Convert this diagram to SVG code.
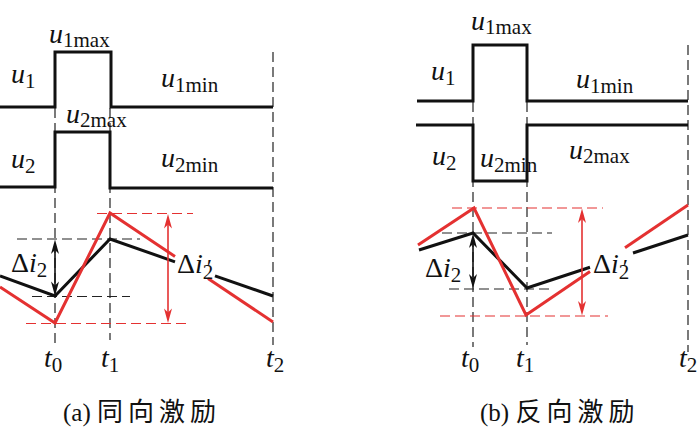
<svg xmlns="http://www.w3.org/2000/svg" width="700" height="432" viewBox="0 0 700 432">
<style>
.w{fill:none;stroke:#111;stroke-width:3}
.cb{fill:none;stroke:#111;stroke-width:3}
.cr{fill:none;stroke:#e43131;stroke-width:3}
.db{fill:none;stroke:#222;stroke-width:1.2;stroke-dasharray:10 5}
.dr{fill:none;stroke:#e43131;stroke-width:1.2;stroke-dasharray:10 5}
.ab{fill:none;stroke:#111;stroke-width:1.6}
.ar{fill:none;stroke:#e43131;stroke-width:1.6}
.hb{fill:#111;stroke:none}
.hr{fill:#e43131;stroke:none}
.t{font-family:'Liberation Serif','Times New Roman',serif;font-size:28px;fill:#111}
.i{font-style:italic}
.s{font-size:21px}
.p{font-size:24px;font-style:italic}
.cap{font-size:25px}
.cjk{font-family:'Noto Sans CJK SC',sans-serif;font-size:26px;letter-spacing:5px}
</style>

<g id="panel-a">
  <g id="a-guides">
    <line class="db" x1="55" y1="108" x2="55" y2="345"/>
    <line class="db" x1="110" y1="108" x2="110" y2="340"/>
    <line class="db" x1="273" y1="52" x2="273" y2="345"/>
    <line class="db" x1="17" y1="239" x2="140" y2="239"/>
    <line class="db" x1="32" y1="296.5" x2="130" y2="296.5"/>
    <line class="dr" x1="97" y1="213.5" x2="193" y2="213.5"/>
    <line class="dr" x1="26" y1="323.5" x2="188" y2="323.5"/>
  </g>
  <g id="a-u1"><polyline class="w" points="0,107 55,107 55,52 111,52 111,107 273,107"/></g>
  <g id="a-u2"><polyline class="w" points="0,187 55,187 55,132 110,132 110,188 273,188"/></g>
  <g id="a-i2"><polyline class="cb" points="0,276 55,296 110,239 175,261.8"/><line class="cb" x1="215" y1="275.8" x2="273" y2="296"/></g>
  <g id="a-i2p"><polyline class="cr" points="0,287 55,323 110,213 175,256.5"/><line class="cr" x1="208" y1="278.5" x2="273" y2="322"/></g>
  <g id="a-labels">
    <text class="t" x="11" y="83"><tspan class="i">u</tspan><tspan class="s" dy="5">1</tspan></text>
    <text class="t" x="49" y="43"><tspan class="i">u</tspan><tspan class="s" dy="4">1max</tspan></text>
    <text class="t" x="161" y="87"><tspan class="i">u</tspan><tspan class="s" dy="5">1min</tspan></text>
    <text class="t" x="66" y="123"><tspan class="i">u</tspan><tspan class="s" dy="4">2max</tspan></text>
    <text class="t" x="11" y="168"><tspan class="i">u</tspan><tspan class="s" dy="5">2</tspan></text>
    <text class="t" x="161" y="167"><tspan class="i">u</tspan><tspan class="s" dy="5">2min</tspan></text>
    <text class="t" x="11" y="272">Δ<tspan class="i">i</tspan><tspan class="s" dy="5">2</tspan></text>
    <text class="t" x="177" y="273">Δ<tspan class="i">i</tspan><tspan class="s" dy="6">2</tspan><tspan class="p" dx="-8" dy="-4">′</tspan></text>
    <text class="t" x="44" y="367"><tspan class="i">t</tspan><tspan class="s" dy="5">0</tspan></text>
    <text class="t" x="101" y="367"><tspan class="i">t</tspan><tspan class="s" dy="5">1</tspan></text>
    <text class="t" x="266" y="367"><tspan class="i">t</tspan><tspan class="s" dy="5">2</tspan></text>
    <text class="t cap" x="63" y="421">(a) <tspan class="cjk">同向激励</tspan></text>
  </g>
</g>

<g id="panel-b">
  <g id="b-guides">
    <line class="db" x1="473" y1="102" x2="473" y2="347"/>
    <line class="db" x1="527" y1="102" x2="527" y2="345"/>
    <line class="db" x1="688" y1="45" x2="688" y2="352"/>
    <line class="db" x1="442" y1="233" x2="552" y2="233"/>
    <line class="db" x1="449" y1="289" x2="550" y2="289"/>
    <line class="dr" x1="452" y1="208" x2="603" y2="208"/>
    <line class="dr" x1="440" y1="316" x2="608" y2="316"/>
  </g>
  <g id="b-u1"><polyline class="w" points="417,101 473,101 473,45 527,45 527,101 688,101"/></g>
  <g id="b-u2"><polyline class="w" points="416,125 473,125 473,181 527,181 527,125 688,125"/></g>
  <g id="b-i2"><polyline class="cb" points="419,250 473,233 527,288 590,267.3"/><line class="cb" x1="633" y1="253" x2="688" y2="235"/></g>
  <g id="b-i2p"><polyline class="cr" points="418,245 474,208 526,315 590,271.5"/><line class="cr" x1="625" y1="247.8" x2="688" y2="205"/></g>
  <g id="b-labels">
    <text class="t" x="431" y="80"><tspan class="i">u</tspan><tspan class="s" dy="5">1</tspan></text>
    <text class="t" x="471" y="30"><tspan class="i">u</tspan><tspan class="s" dy="4">1max</tspan></text>
    <text class="t" x="576" y="88"><tspan class="i">u</tspan><tspan class="s" dy="5">1min</tspan></text>
    <text class="t" x="432" y="165"><tspan class="i">u</tspan><tspan class="s" dy="5">2</tspan></text>
    <text class="t" x="480" y="167"><tspan class="i">u</tspan><tspan class="s" dy="5">2min</tspan></text>
    <text class="t" x="569" y="159"><tspan class="i">u</tspan><tspan class="s" dy="4">2max</tspan></text>
    <text class="t" x="425" y="277">Δ<tspan class="i">i</tspan><tspan class="s" dy="5">2</tspan></text>
    <text class="t" x="593" y="273">Δ<tspan class="i">i</tspan><tspan class="s" dy="6">2</tspan><tspan class="p" dx="-8" dy="-4">′</tspan></text>
    <text class="t" x="461" y="367"><tspan class="i">t</tspan><tspan class="s" dy="5">0</tspan></text>
    <text class="t" x="516" y="367"><tspan class="i">t</tspan><tspan class="s" dy="5">1</tspan></text>
    <text class="t" x="679" y="367"><tspan class="i">t</tspan><tspan class="s" dy="5">2</tspan></text>
    <text class="t cap" x="480" y="421">(b) <tspan class="cjk">反向激励</tspan></text>
  </g>
</g>

<g id="connectors">
  <g id="arrow-a-black">
    <line class="ab" x1="55" y1="248" x2="55" y2="287"/>
    <path class="hb" d="M55,239.5 L51,254 L55,250 L59,254 Z"/>
    <path class="hb" d="M55,296 L51,281.5 L55,285.5 L59,281.5 Z"/>
  </g>
  <g id="arrow-a-red">
    <line class="ar" x1="168" y1="222" x2="168" y2="315"/>
    <path class="hr" d="M168,214 L164,228.5 L168,224.5 L172,228.5 Z"/>
    <path class="hr" d="M168,323 L164,308.5 L168,312.5 L172,308.5 Z"/>
  </g>
  <g id="arrow-b-black">
    <line class="ab" x1="473" y1="242" x2="473" y2="280"/>
    <path class="hb" d="M473,233.5 L469,248 L473,244 L477,248 Z"/>
    <path class="hb" d="M473,288.5 L469,274 L473,278 L477,274 Z"/>
  </g>
  <g id="arrow-b-red">
    <line class="ar" x1="582" y1="216" x2="582" y2="308"/>
    <path class="hr" d="M582,208.5 L578,223 L582,219 L586,223 Z"/>
    <path class="hr" d="M582,315.5 L578,301 L582,305 L586,301 Z"/>
  </g>
</g>
</svg>
